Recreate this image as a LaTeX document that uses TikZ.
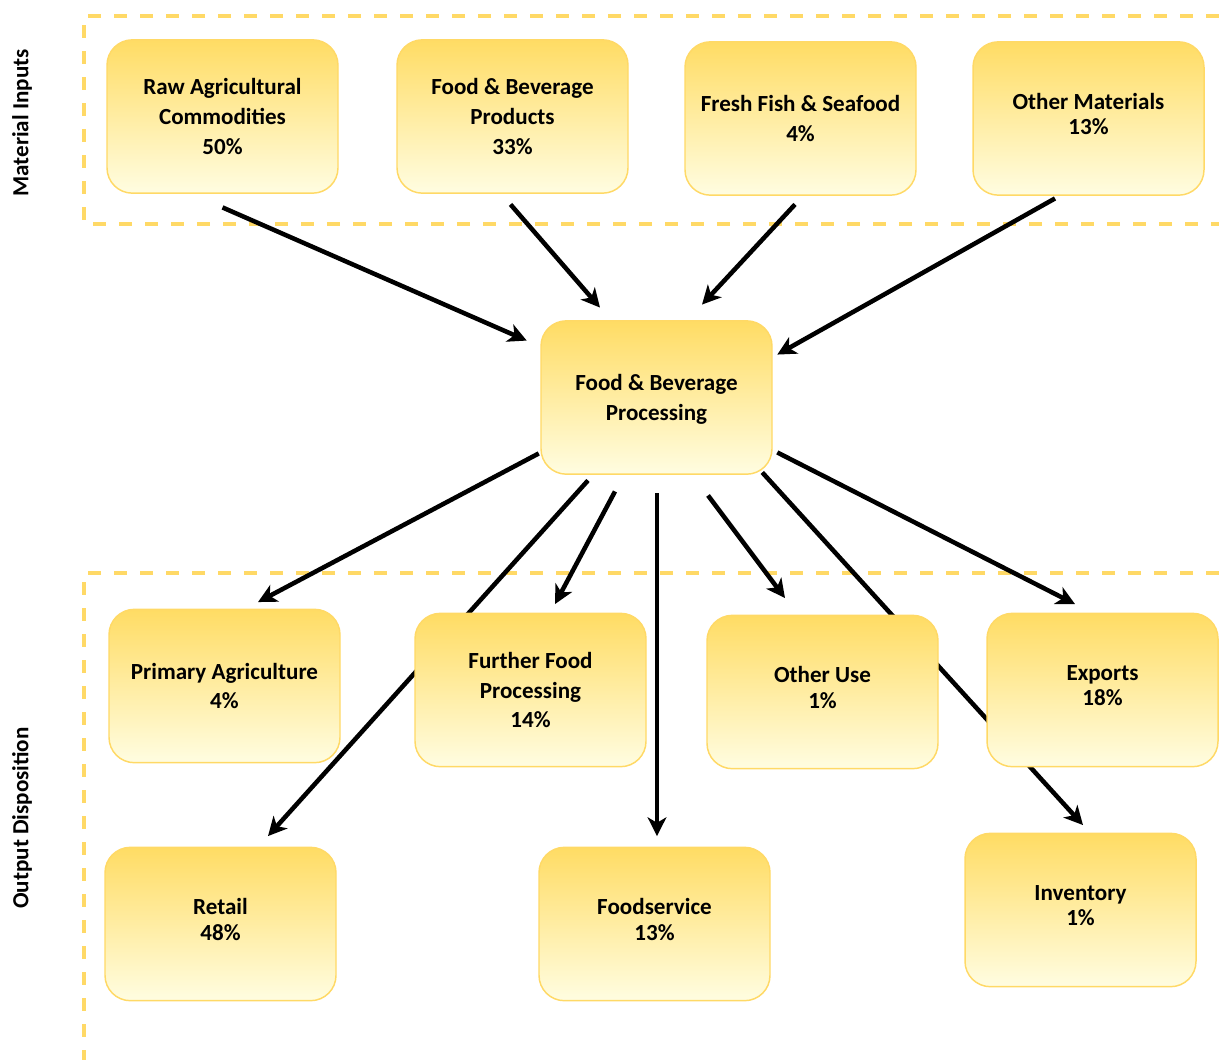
\documentclass[tikz,border=0pt]{standalone}
\usepackage{fontspec}
\setmainfont{Carlito}
\usetikzlibrary{arrows.meta,calc}
\definecolor{boxtop}{RGB}{255,220,100}
\definecolor{boxmid}{RGB}{255,244,175}
\definecolor{boxbot}{RGB}{255,253,225}
\definecolor{boxedge}{RGB}{255,217,102}
\definecolor{dashcol}{RGB}{255,217,102}
\tikzset{
  px/.style={x=0.75pt,y=-0.75pt},
  flowbox/.style={draw=boxedge, line width=1.1pt, rounded corners=19pt,
    top color=boxtop, middle color=boxmid, bottom color=boxbot,
    minimum width=173.25pt, minimum height=115pt, inner sep=0pt,
    align=center, font=\bfseries\fontsize{17.3}{22.2}\selectfont},
  raised/.style={text depth=7pt},
  flowarrow/.style={line width=3.4pt, -{Stealth[length=14pt,width=14pt,inset=4pt]}},
  region/.style={draw=dashcol, line width=2.3pt, dash pattern=on 9.75pt off 9.75pt},
  sidelabel/.style={rotate=90, font=\bfseries\fontsize{17.3}{22.2}\selectfont, inner sep=0pt}
}
\begin{document}
\begin{tikzpicture}[px]
\useasboundingbox (0,0) rectangle (1219,1060);
% regions
\draw[region] (1219,16) -- (84,16) -- (84,224) -- (1219,224);
\draw[region] (1219,573) -- (84,573) -- (84,1060);
\node[sidelabel] (lblin) at (22,123) {Material Inputs};
\node[sidelabel] (lblout) at (22,818) {Output Disposition};
% positions
\path (222.5,116.5) coordinate (cRaw)
      (512.5,116.5) coordinate (cFbp)
      (800.5,118.5) coordinate (cFish)
      (1088.5,118.5) coordinate (cOther)
      (656.5,397.5) coordinate (cProc)
      (224.5,686) coordinate (cPrim)
      (530.5,690) coordinate (cFurther)
      (822.5,692) coordinate (cUse)
      (1102.5,690) coordinate (cExp)
      (220.5,924) coordinate (cRetail)
      (654.5,924) coordinate (cFood)
      (1080.5,910) coordinate (cInv);
% box outlines as named anchors (boxes are drawn over the arrows below)
\begin{scope}[every node/.style={minimum width=173.25pt, minimum height=115pt, inner sep=0pt}]
\node (raw) at (cRaw) {};
\node (fbp) at (cFbp) {};
\node (fish) at (cFish) {};
\node (other) at (cOther) {};
\node (proc) at (cProc) {};
\node (prim) at (cPrim) {};
\node (further) at (cFurther) {};
\node (use) at (cUse) {};
\node (exp) at (cExp) {};
\node (retail) at (cRetail) {};
\node (food) at (cFood) {};
\node (inv) at (cInv) {};
\end{scope}
% arrows in
\draw[flowarrow] ($(raw.south)+(0,14)$) -- ($(proc.north west)+(-14,20)$);
\draw[flowarrow] ($(fbp.south)+(-2,11)$) -- ($(proc.north)+(-56.5,-13)$);
\draw[flowarrow] ($(fish.south)+(-5.5,9)$) -- ($(proc.north)+(45.5,-16)$);
\draw[flowarrow] ($(other.south)+(-33.5,3)$) -- ($(proc.north east)+(5,34)$);
% arrows out
\draw[flowarrow] ($(proc.south west)+(-2,-21)$) -- ($(prim.north)+(33.5,-7)$);
\draw[flowarrow] ($(proc.south)+(-68.5,6)$) -- ($(retail.north)+(47.5,-11)$);
\draw[flowarrow] ($(proc.south)+(-41.5,17)$) -- ($(further.north)+(24.5,-9)$);
\draw[flowarrow] ($(proc.south)+(0.5,19)$) -- ($(food.north)+(2.5,-11)$);
\draw[flowarrow] ($(proc.south)+(51.5,21)$) -- ($(use.north)+(-37.5,-17)$);
\draw[flowarrow] ($(proc.south east)+(-10,-2)$) -- ($(inv.north)+(2.5,-8)$);
\draw[flowarrow] ($(proc.south east)+(5,-22)$) -- ($(exp.north)+(-27.5,-9)$);
% boxes
\node[flowbox] (rawbox) at (raw) {Raw Agricultural\\Commodities\\50\%};
\node[flowbox] (fbpbox) at (fbp) {Food \& Beverage\\Products\\33\%};
\node[flowbox] (fishbox) at (fish) {Fresh Fish \& Seafood\\4\%};
\node[flowbox,raised] (otherbox) at (other) {Other Materials\\[-3pt]13\%};
\node[flowbox,text depth=0pt] (procbox) at (proc) {Food \& Beverage\\Processing};
\node[flowbox] (primbox) at (prim) {Primary Agriculture\\4\%};
\node[flowbox] (furtherbox) at (further) {Further Food\\Processing\\14\%};
\node[flowbox,raised] (usebox) at (use) {Other Use\\[-3pt]1\%};
\node[flowbox,raised] (expbox) at (exp) {Exports\\[-3pt]18\%};
\node[flowbox,raised] (retailbox) at (retail) {Retail\\[-3pt]48\%};
\node[flowbox,raised] (foodbox) at (food) {Foodservice\\[-3pt]13\%};
\node[flowbox,raised] (invbox) at (inv) {Inventory\\[-3pt]1\%};
\end{tikzpicture}
\end{document}
